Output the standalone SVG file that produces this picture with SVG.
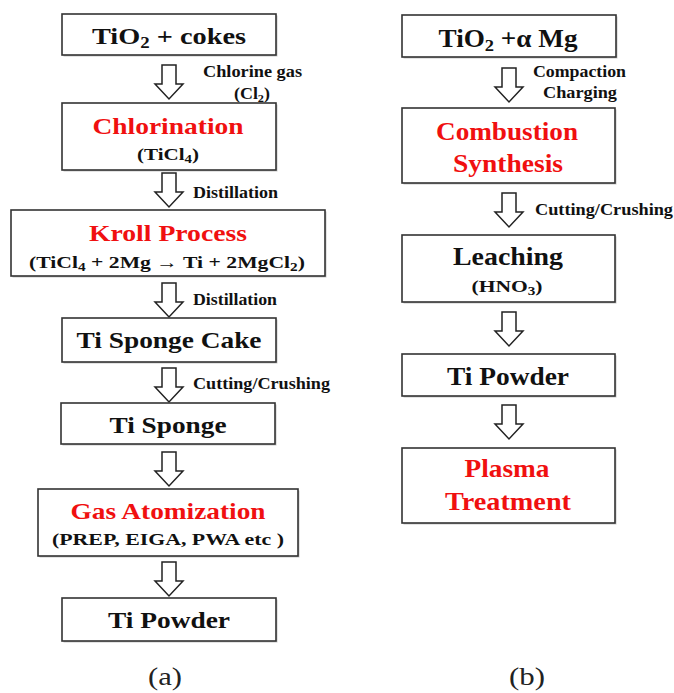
<svg xmlns="http://www.w3.org/2000/svg" width="674" height="693" viewBox="0 0 674 693">
<style>
  .box { fill: #ffffff; stroke: #333333; stroke-width: 1.6; }
  .shadow { fill: #c8c8c8; }
  .arrow { fill: #ffffff; stroke: #222222; stroke-width: 1.5; stroke-linejoin: miter; }
  text { font-family: "Liberation Serif", "Times New Roman", serif; font-weight: bold; text-anchor: middle; fill: #111111; }
  .main { font-size: 24px; }
  .mainR { font-size: 25px; }
  .red { fill: #f01010; }
  .sub { font-size: 17px; }
  .lbl { font-size: 16px; text-anchor: start; }
  .cap { font-weight: normal; font-size: 25px; fill: #222222; }
</style>
<defs>
  <path id="arr" class="arrow" d="M-7,0 H7 V19 H14 L0,34 L-14,19 H-7 Z"/>
</defs>
<rect width="674" height="693" fill="#ffffff"/>

<g id="connectors">
  <use href="#arr" x="169" y="65"/>
  <use href="#arr" x="169" y="173"/>
  <use href="#arr" x="169" y="283"/>
  <use href="#arr" x="169" y="368"/>
  <use href="#arr" x="169" y="452"/>
  <use href="#arr" x="169" y="562"/>
  <use href="#arr" x="509" y="68"/>
  <use href="#arr" x="509" y="193"/>
  <use href="#arr" x="509" y="312"/>
  <use href="#arr" x="509" y="405"/>
  <text class="lbl" x="203" y="77" textLength="99" lengthAdjust="spacingAndGlyphs">Chlorine gas</text>
  <text class="lbl" x="234" y="99" textLength="36" lengthAdjust="spacingAndGlyphs">(Cl<tspan font-size="11" dy="3">2</tspan><tspan dy="-3">)</tspan></text>
  <text class="lbl" x="193" y="198" textLength="85" lengthAdjust="spacingAndGlyphs">Distillation</text>
  <text class="lbl" x="193" y="305" textLength="84" lengthAdjust="spacingAndGlyphs">Distillation</text>
  <text class="lbl" x="193" y="389" textLength="137" lengthAdjust="spacingAndGlyphs">Cutting/Crushing</text>
  <text class="lbl" x="533" y="77" textLength="93" lengthAdjust="spacingAndGlyphs">Compaction</text>
  <text class="lbl" x="543" y="98" textLength="74" lengthAdjust="spacingAndGlyphs">Charging</text>
  <text class="lbl" x="535" y="215" textLength="138" lengthAdjust="spacingAndGlyphs">Cutting/Crushing</text>
</g>

<g id="a1">
  <rect class="shadow" x="63.5" y="15.5" width="214" height="41"/>
  <rect class="box" x="62" y="14" width="214" height="41"/>
  <text class="main" x="169" y="44" textLength="154" lengthAdjust="spacingAndGlyphs">TiO<tspan font-size="16" dy="4">2</tspan><tspan dy="-4">  + cokes</tspan></text>
</g>
<g id="a2">
  <rect class="shadow" x="63.5" y="104.5" width="214" height="67"/>
  <rect class="box" x="62" y="103" width="214" height="67"/>
  <text class="main red" x="168" y="134" textLength="151" lengthAdjust="spacingAndGlyphs">Chlorination</text>
  <text class="sub" x="168" y="160" textLength="62" lengthAdjust="spacingAndGlyphs">(TiCl<tspan font-size="12" dy="3">4</tspan><tspan dy="-3">)</tspan></text>
</g>
<g id="a3">
  <rect class="shadow" x="12.5" y="211.5" width="314" height="66"/>
  <rect class="box" x="11" y="210" width="314" height="66"/>
  <text class="main red" x="168" y="241" textLength="158" lengthAdjust="spacingAndGlyphs">Kroll Process</text>
  <text class="sub" x="167" y="268" textLength="276" lengthAdjust="spacingAndGlyphs">(TiCl<tspan font-size="12" dy="3">4</tspan><tspan dy="-3"> + 2Mg  → Ti + 2MgCl</tspan><tspan font-size="12" dy="3">2</tspan><tspan dy="-3">)</tspan></text>
</g>
<g id="a4">
  <rect class="shadow" x="63.5" y="319.5" width="214" height="44"/>
  <rect class="box" x="62" y="318" width="214" height="44"/>
  <text class="main" x="169" y="348" textLength="185" lengthAdjust="spacingAndGlyphs">Ti Sponge Cake</text>
</g>
<g id="a5">
  <rect class="shadow" x="62.5" y="404.5" width="214" height="41"/>
  <rect class="box" x="61" y="403" width="214" height="41"/>
  <text class="main" x="168" y="433" textLength="117" lengthAdjust="spacingAndGlyphs">Ti Sponge</text>
</g>
<g id="a6">
  <rect class="shadow" x="39.5" y="490.5" width="260" height="67"/>
  <rect class="box" x="38" y="489" width="260" height="67"/>
  <text class="main red" x="168" y="519" textLength="195" lengthAdjust="spacingAndGlyphs">Gas Atomization</text>
  <text class="sub" x="168" y="545" textLength="232" lengthAdjust="spacingAndGlyphs">(PREP, EIGA,  PWA etc )</text>
</g>
<g id="a7">
  <rect class="shadow" x="63.5" y="599.5" width="214" height="43"/>
  <rect class="box" x="62" y="598" width="214" height="43"/>
  <text class="main" x="169" y="628" textLength="122" lengthAdjust="spacingAndGlyphs">Ti Powder</text>
</g>

<g id="b1">
  <rect class="shadow" x="403.5" y="16.5" width="214" height="42"/>
  <rect class="box" x="402" y="15" width="214" height="42"/>
  <text class="mainR" x="508" y="47" textLength="139" lengthAdjust="spacingAndGlyphs">TiO<tspan font-size="17" dy="4">2</tspan><tspan dy="-4"> +α Mg</tspan></text>
</g>
<g id="b2">
  <rect class="shadow" x="403.5" y="109.5" width="213" height="75"/>
  <rect class="box" x="402" y="108" width="213" height="75"/>
  <text class="mainR red" x="507" y="140" textLength="142" lengthAdjust="spacingAndGlyphs">Combustion</text>
  <text class="mainR red" x="508" y="172" textLength="110" lengthAdjust="spacingAndGlyphs">Synthesis</text>
</g>
<g id="b3">
  <rect class="shadow" x="403.5" y="236.5" width="213" height="67"/>
  <rect class="box" x="402" y="235" width="213" height="67"/>
  <text class="mainR" x="508" y="265" textLength="110" lengthAdjust="spacingAndGlyphs">Leaching</text>
  <text class="sub" x="507" y="292" textLength="71" lengthAdjust="spacingAndGlyphs">(HNO<tspan font-size="12" dy="3">3</tspan><tspan dy="-3">)</tspan></text>
</g>
<g id="b4">
  <rect class="shadow" x="403.5" y="355.5" width="213" height="42"/>
  <rect class="box" x="402" y="354" width="213" height="42"/>
  <text class="mainR" x="508" y="385" textLength="122" lengthAdjust="spacingAndGlyphs">Ti Powder</text>
</g>
<g id="b5">
  <rect class="shadow" x="403.5" y="449.5" width="213" height="75"/>
  <rect class="box" x="402" y="448" width="213" height="75"/>
  <text class="mainR red" x="507" y="477" textLength="85" lengthAdjust="spacingAndGlyphs">Plasma</text>
  <text class="mainR red" x="508" y="510" textLength="126" lengthAdjust="spacingAndGlyphs">Treatment</text>
</g>

<g id="captions">
  <text class="cap" x="165" y="685" textLength="34" lengthAdjust="spacingAndGlyphs">(a)</text>
  <text class="cap" x="527" y="685" textLength="36" lengthAdjust="spacingAndGlyphs">(b)</text>
</g>
</svg>
